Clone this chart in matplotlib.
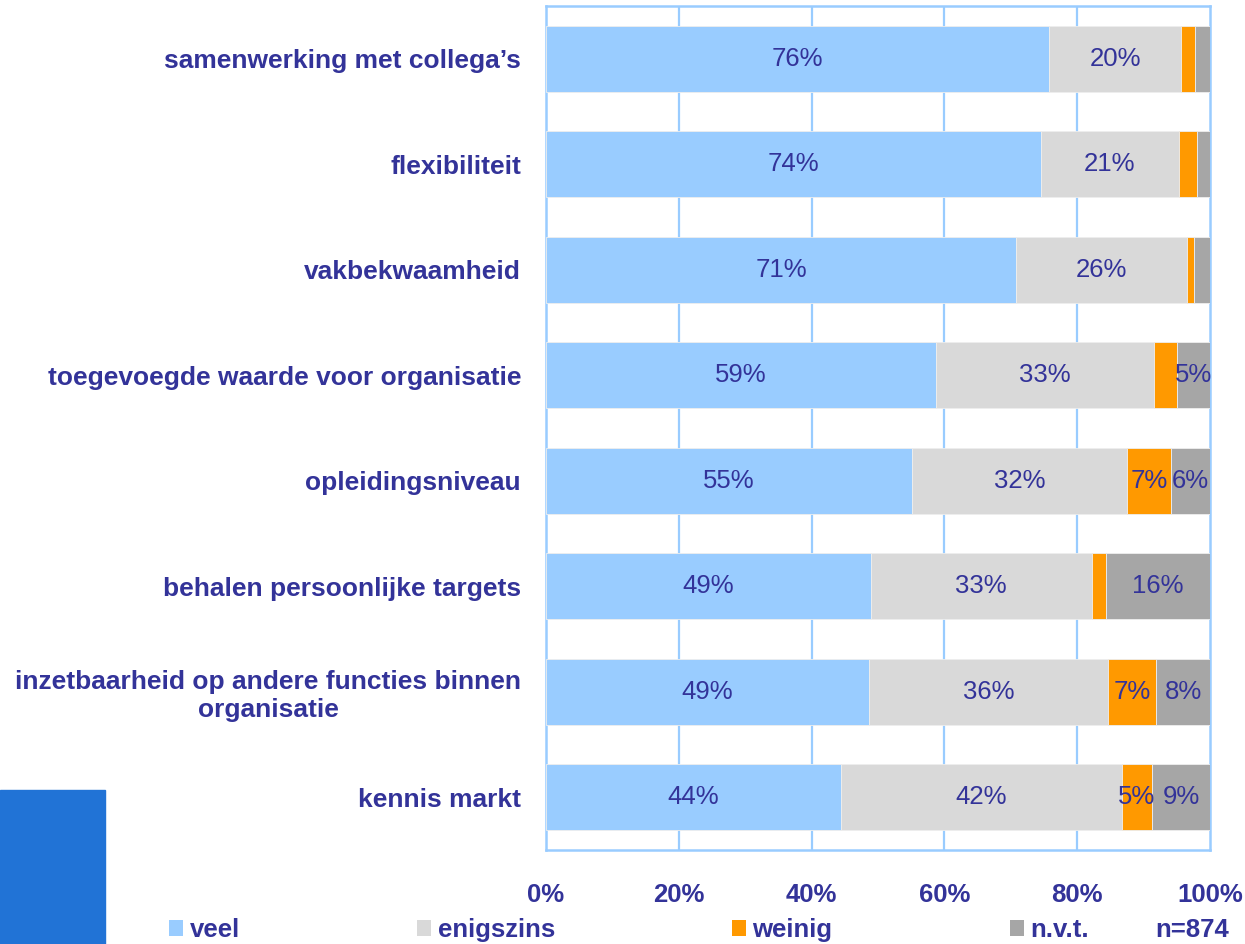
"""
Waardering medewerkers per aspect — gestapelde staafgrafiek (n=874)
"""

import numpy as np
import matplotlib.pyplot as plt
from matplotlib.patches import Rectangle

# ── Data ──────────────────────────────────────────────────
categorieen = [
    "samenwerking met collega’s",
    "flexibiliteit",
    "vakbekwaamheid",
    "toegevoegde waarde voor organisatie",
    "opleidingsniveau",
    "behalen persoonlijke targets",
    "inzetbaarheid op andere functies binnen\norganisatie",
    "kennis markt",
]
veel      = [75.8, 74.5, 70.8, 58.7, 55.1, 48.9, 48.6, 44.4]
enigszins = [19.9, 20.8, 25.8, 32.9, 32.4, 33.3, 36.1, 42.3]
weinig    = [2.0, 2.8, 1.0, 3.4, 6.7, 2.1, 7.2, 4.6]
nvt       = [2.3, 1.9, 2.4, 5.0, 5.8, 15.7, 8.1, 8.7]

reeks_namen = ["veel", "enigszins", "weinig", "n.v.t."]
xticks      = [0, 20, 40, 60, 80, 100]
n_tekst     = "n=874"

# ── Stijl ─────────────────────────────────────────────────
TEKST  = "#333399"
RASTER = "#99CCFF"
kleuren = ["#99CCFF", "#D9D9D9", "#FF9900", "#A6A6A6"]

plt.rcParams['font.family'] = ['Liberation Sans', 'DejaVu Sans']

W, H = 1245, 944
fig = plt.figure(figsize=(W / 100, H / 100), dpi=100)
ax = fig.add_axes([546 / W, 1 - 850 / H, (1210 - 546) / W, (850 - 6) / H])

y = np.arange(len(categorieen))
links = np.zeros(len(categorieen))
balken = []
for naam, waarden, kleur in zip(reeks_namen, [veel, enigszins, weinig, nvt], kleuren):
    b = ax.barh(y, waarden, left=links, height=0.625, color=kleur,
                edgecolor='#EEEEEE', linewidth=0.6, zorder=3, label=naam)
    balken.append(b)
    # alleen labels tonen als het segment breed genoeg is
    for yi, l, v in zip(y, links, waarden):
        if v >= 4.5:
            ax.text(l + v / 2, yi, f"{round(v)}%", ha='center', va='center',
                    fontsize=18.5, color=TEKST, zorder=4)
    links = links + np.array(waarden)

ax.set_xlim(0, 100)
ax.set_ylim(len(categorieen) - 0.5, -0.5)
ax.set_yticks(y)
ax.set_yticklabels(categorieen, fontsize=19, fontweight='bold', color=TEKST,
                   multialignment='center')
ax.set_xticks(xticks)
ax.set_xticklabels([f"{t}%" for t in xticks], fontsize=18.5,
                   fontweight='bold', color=TEKST)
ax.tick_params(axis='y', length=0, pad=18)
ax.tick_params(axis='x', length=0, pad=24)

for t in xticks[1:-1]:
    ax.axvline(t, color=RASTER, linewidth=1.6, zorder=1)
for s in ax.spines.values():
    s.set_color(RASTER)
    s.set_linewidth(1.8)

# ── Legenda ───────────────────────────────────────────────
leg_x = [169, 417, 732, 1010]
for b, naam, x in zip(balken, reeks_namen, leg_x):
    lg = fig.legend([b], [naam], loc='center left',
                    bbox_to_anchor=(x / W, 1 - 930 / H), frameon=False,
                    handlelength=0.55, handleheight=0.55, handletextpad=0.25,
                    borderpad=0, borderaxespad=0,
                    prop={'size': 18.5, 'weight': 'bold'})
    for txt in lg.get_texts():
        txt.set_color(TEKST)
    for h in lg.legend_handles:
        h.set_edgecolor('none')

fig.text(1155 / W, 1 - 930 / H, n_tekst, ha='left', va='center',
         fontsize=18.5, fontweight='bold', color=TEKST)

# blauw blok linksonder
fig.patches.append(Rectangle((0, 0), 105 / W, (944 - 790) / H,
                             transform=fig.transFigure, color='#2173D6'))

fig.savefig('out.png', dpi=100)
